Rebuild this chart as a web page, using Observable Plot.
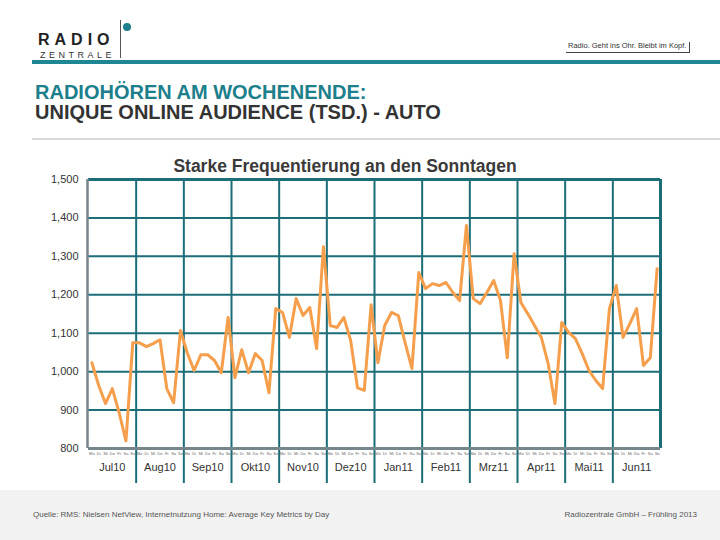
<!DOCTYPE html>
<html>
<head>
<meta charset="utf-8">
<script src="https://cdn.jsdelivr.net/npm/d3@7"></script>
<script src="https://cdn.jsdelivr.net/npm/@observablehq/plot@0.6"></script>
<style>
  html, body { margin: 0; padding: 0; background: #fff; }
  #page { position: relative; width: 720px; height: 540px; overflow: hidden; background: #fff;
          font-family: "Liberation Sans", Arial, sans-serif; }
  .abs { position: absolute; white-space: nowrap; line-height: 1; }
  #logo1 { left: 38px; top: 34px; line-height: 0.8; font-size: 16px; font-weight: 900; letter-spacing: 5px; color: #222; }
  #logo2 { left: 40px; top: 51px; font-size: 9px; letter-spacing: 3.5px; color: #333; }
  #logoLine { left: 120px; top: 20px; width: 1px; height: 38px; background: #555; }
  #logoDot { left: 123px; top: 23px; width: 8px; height: 8px; border-radius: 50%; background: #1c7f8b; }
  #tagline { left: 566px; top: 42px; font-size: 7.5px; color: #333; padding: 0 3px 2px 2px;
             border-bottom: 1px solid #444; border-right: 1px solid #444; }
  #tealBar { left: 32px; top: 60px; width: 688px; height: 4px; background: #1e8793; }
  #t1 { left: 35px; top: 82px; font-size: 20px; font-weight: bold; color: #1c7f8b; }
  #t2 { left: 35px; top: 102px; font-size: 20px; font-weight: bold; color: #333; }
  #sep { left: 32px; top: 138px; width: 688px; height: 2px; background: #d9d9d9; }
  #ctitle { left: 0; width: 690px; text-align: center; top: 158px; font-size: 17.5px; font-weight: bold; color: #3a3a3a; }
  #chart { left: 0; top: 150px; }
  #footer { left: 0; top: 490px; width: 720px; height: 50px; background: #f2f2f2; }
  #src { left: 33px; top: 511px; font-size: 8px; color: #555; }
  #copy { right: 23px; top: 511px; font-size: 8px; color: #555; }
</style>
</head>
<body>
<div id="page">
  <div class="abs" id="logo1">RADIO</div>
  <div class="abs" id="logo2">ZENTRALE</div>
  <div class="abs" id="logoLine"></div>
  <div class="abs" id="logoDot"></div>
  <div class="abs" id="tagline">Radio. Geht ins Ohr. Bleibt im Kopf.</div>
  <div class="abs" id="tealBar"></div>
  <div class="abs" id="t1">RADIOHÖREN AM WOCHENENDE:</div>
  <div class="abs" id="t2">UNIQUE ONLINE AUDIENCE (TSD.) - AUTO</div>
  <div class="abs" id="sep"></div>
  <div class="abs" id="chart"></div>
  <div class="abs" id="ctitle">Starke Frequentierung an den Sonntagen</div>
  <div class="abs" id="footer"></div>
  <div class="abs" id="src">Quelle: RMS: Nielsen NetView, Internetnutzung Home: Average Key Metrics by Day</div>
  <div class="abs" id="copy">Radiozentrale GmbH – Frühling 2013</div>
</div>
<script>
const months = ["Jul10","Aug10","Sep10","Okt10","Nov10","Dez10","Jan11","Feb11","Mrz11","Apr11","Mai11","Jun11"];
const weekdays = ["Mo","Di","Mi","Do","Fr","Sa","So"];
const yTicks = [800, 900, 1000, 1100, 1200, 1300, 1400, 1500];
// Unique online audience (Tsd.) per weekday (Mo..So) for each month
const jul10 = [1023, 964, 917, 956, 893, 820, 1075];
const aug10 = [1075, 1065, 1073, 1083, 956, 919, 1107];
const sep10 = [1049, 1003, 1044, 1044, 1029, 997, 1141];
const okt10 = [984, 1057, 997, 1047, 1029, 945, 1164];
const nov10 = [1154, 1089, 1190, 1146, 1167, 1060, 1325];
const dez10 = [1120, 1115, 1141, 1081, 958, 951, 1174];
const jan11 = [1023, 1120, 1154, 1146, 1075, 1008, 1258];
const feb11 = [1216, 1229, 1224, 1232, 1206, 1185, 1380];
const mrz11 = [1190, 1177, 1206, 1237, 1185, 1036, 1307];
const apr11 = [1180, 1151, 1120, 1089, 1021, 917, 1128];
const mai11 = [1102, 1086, 1047, 1003, 977, 956, 1164];
const jun11 = [1224, 1089, 1125, 1164, 1016, 1036, 1268];

const series = [jul10, aug10, sep10, okt10, nov10, dez10, jan11, feb11, mrz11, apr11, mai11, jun11];
const nDays = weekdays.length;
const data = [];
series.forEach((vals, m) => vals.forEach((v, d) => data.push({pos: m * nDays + d + 0.5, month: months[m], day: weekdays[d], value: v})));
const total = months.length * nDays;
const boundaries = d3.range(1, months.length).map(k => k * nDays);
const monthCenters = months.map((m, k) => ({pos: k * nDays + nDays / 2, label: m}));

const teal = "#1b6d78";
const orange = "#f59f4c";
const axisGray = "#76868b";
const font = "'Liberation Sans', Arial, sans-serif";

const chart = Plot.plot({
  width: 720,
  height: 340,
  marginLeft: 88,
  marginRight: 60,
  marginTop: 29,
  marginBottom: 42,
  style: {fontFamily: font, background: "transparent", overflow: "visible"},
  x: {domain: [0, total], axis: null},
  y: {domain: [yTicks[0], yTicks[yTicks.length - 1]], axis: null},
  marks: [
    Plot.ruleY(yTicks.slice(1, -1), {stroke: teal, strokeWidth: 2}),
    Plot.ruleX(boundaries, {stroke: teal, strokeWidth: 2, insetBottom: -35}),
    Plot.ruleY([yTicks[yTicks.length - 1]], {stroke: teal, strokeWidth: 3}),
    Plot.ruleX([total], {stroke: teal, strokeWidth: 3}),
    Plot.ruleX([0], {stroke: axisGray, strokeWidth: 2.5, dx: -1}),
    Plot.ruleY([yTicks[0]], {stroke: axisGray, strokeWidth: 3}),
    Plot.lineY(data, {x: "pos", y: "value", stroke: orange, strokeWidth: 3, strokeLinejoin: "round"}),
    Plot.axisY(yTicks, {tickSize: 0, tickPadding: 10, tickFormat: d3.format(","), fontSize: 11, color: "#333", label: null}),
    Plot.text(data, {x: "pos", text: "day", frameAnchor: "bottom", dy: 6, fontSize: 4, fill: "#666"}),
    Plot.text(monthCenters, {x: "pos", text: "label", frameAnchor: "bottom", dy: 22, fontSize: 11, fill: "#333"})
  ]
});
document.getElementById("chart").appendChild(chart);
</script>
</body>
</html>
